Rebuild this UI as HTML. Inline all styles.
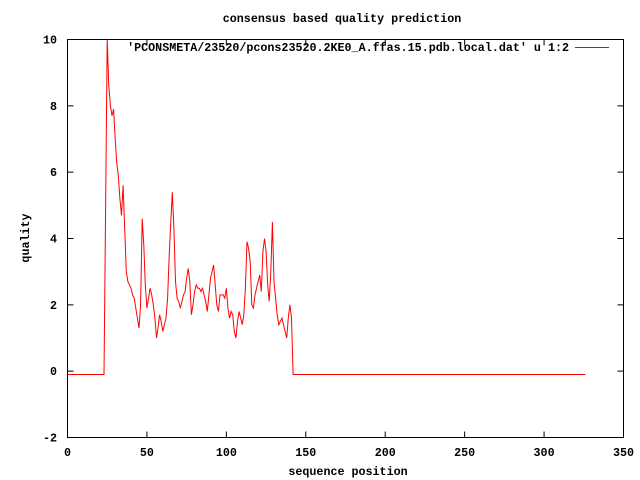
<!DOCTYPE html>
<html><head><meta charset="utf-8"><style>
html,body{margin:0;padding:0;background:#fff;}
svg{display:block;font-family:"Liberation Mono",monospace;font-size:11.7px;font-weight:bold;}
</style></head><body>
<svg id="chart" width="640" height="480" viewBox="0 0 640 480">
<rect x="0" y="0" width="640" height="480" fill="#fff"/>
<text x="342" y="22" text-anchor="middle">consensus based quality prediction</text>
<g id="axes"></g>
<rect x="67.5" y="39.5" width="556" height="398" fill="none" stroke="#000" stroke-width="1"/>
<text x="348" y="475" text-anchor="middle">sequence position</text>
<text x="29" y="238" text-anchor="middle" transform="rotate(-90 29 238)">quality</text>
<g>
<text x="569" y="51" text-anchor="end">'PCONSMETA/23520/pcons23520.2KE0_A.ffas.15.pdb.local.dat' u 1:2</text>
<line x1="575" y1="47.5" x2="609" y2="47.5" stroke="#f00" stroke-width="1"/>
</g>
<path id="series" fill="none" stroke="#f00" stroke-width="1"/>
</svg>
<script>
const xTicks=[0,50,100,150,200,250,300,350];
const yTicks=[-2,0,2,4,6,8,10];
const seqPos=[0,23,24,25,26,27,28,29,30,31,32,33,34,35,36,37,38,39,40,41,42,43,44,45,46,47,48,49,50,51,52,53,54,55,56,57,58,59,60,61,62,63,64,65,66,67,68,69,70,71,72,73,74,75,76,77,78,79,80,81,82,83,84,85,86,87,88,89,90,91,92,93,94,95,96,97,98,99,100,101,102,103,104,105,106,107,108,109,110,111,112,113,114,115,116,117,118,119,120,121,122,123,124,125,126,127,128,129,130,131,132,133,134,135,136,137,138,139,140,141,142,326];
const quality=[-0.1,-0.1,4.9,10,8.6,8.0,7.7,7.9,7.0,6.3,5.9,5.2,4.7,5.6,4.3,3.0,2.7,2.6,2.5,2.3,2.2,1.9,1.6,1.3,2.0,4.6,3.8,2.6,1.9,2.2,2.5,2.3,2.0,1.6,1.0,1.3,1.7,1.5,1.2,1.4,1.6,2.2,3.5,4.5,5.4,4.3,2.7,2.2,2.1,1.9,2.1,2.3,2.4,2.8,3.1,2.7,1.7,2.0,2.4,2.6,2.5,2.5,2.4,2.5,2.3,2.1,1.8,2.3,2.8,3.0,3.2,2.6,2.0,1.8,2.3,2.3,2.3,2.2,2.5,1.9,1.6,1.8,1.7,1.2,1.0,1.5,1.8,1.6,1.4,1.7,2.5,3.9,3.7,3.3,2.0,1.9,2.3,2.5,2.7,2.9,2.4,3.6,4.0,3.6,2.6,2.1,3.0,4.5,2.7,2.2,1.7,1.4,1.5,1.6,1.4,1.2,1.0,1.6,2.0,1.6,-0.1,-0.1];
const NS='http://www.w3.org/2000/svg';
const X0=67.5,X1=623.5,Y0=437.5,Y1=39.5;
function sx(v){return X0+(v-0)/(350-0)*(X1-X0);}
function sy(v){return Y0-(v+2)/(10+2)*(Y0-Y1);}
const axes=document.getElementById('axes');
xTicks.forEach(t=>{
  const x=sx(t);
  const l=document.createElementNS(NS,'path');
  l.setAttribute('d',`M${x},${Y0}v-6M${x},${Y1}v6`);
  l.setAttribute('stroke','#000');
  
  
  axes.appendChild(l);
  const tx=document.createElementNS(NS,'text');
  tx.setAttribute('x',x);tx.setAttribute('y',456);tx.setAttribute('text-anchor','middle');
  tx.textContent=t;
  
  
  axes.appendChild(tx);
});
yTicks.forEach(t=>{
  const y=sy(t);
  const l=document.createElementNS(NS,'path');
  l.setAttribute('d',`M${X0},${y}h6M${X1},${y}h-6`);
  l.setAttribute('stroke','#000');
  
  
  axes.appendChild(l);
  const tx=document.createElementNS(NS,'text');
  tx.setAttribute('x',57);tx.setAttribute('y',y+4);tx.setAttribute('text-anchor','end');
  tx.textContent=t;
  
  
  axes.appendChild(tx);
});
let d='';
seqPos.forEach((p,i)=>{d+=(i?'L':'M')+sx(p).toFixed(1)+','+sy(quality[i]).toFixed(1);});
document.getElementById('series').setAttribute('d',d);
</script>
</body></html>
